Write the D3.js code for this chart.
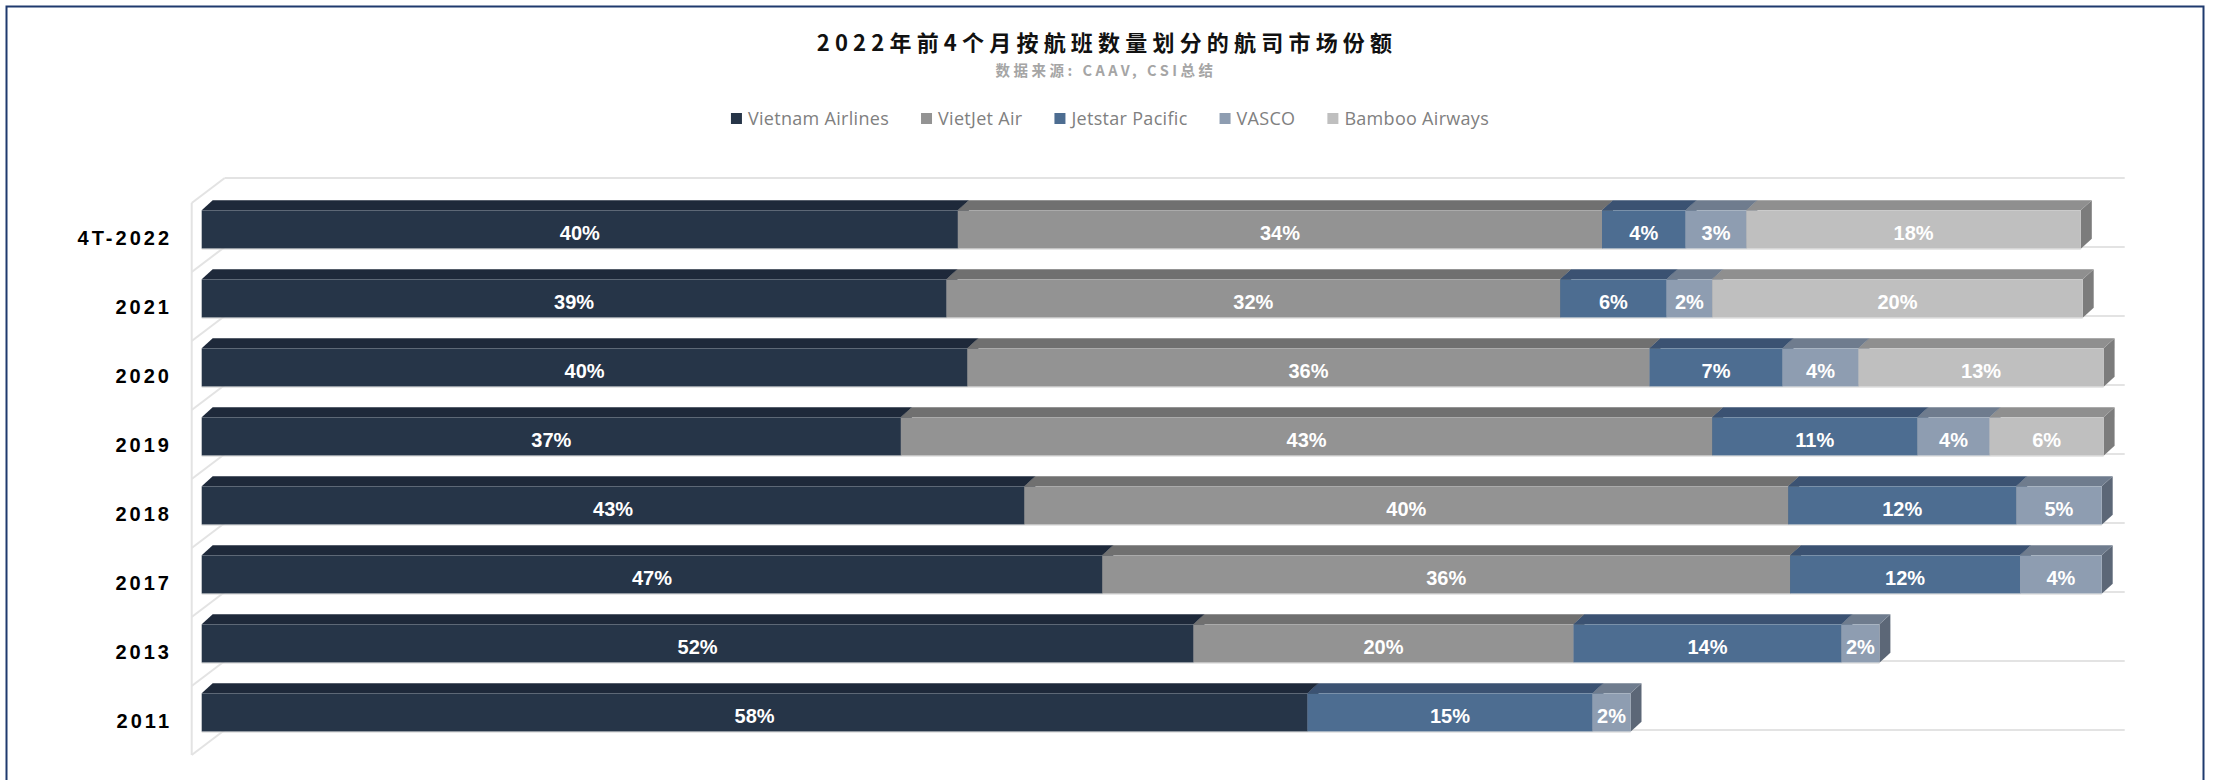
<!DOCTYPE html>
<html>
<head>
<meta charset="utf-8">
<script src="https://cdn.jsdelivr.net/npm/d3@7"></script>
<style>
  html, body { margin: 0; padding: 0; background: #ffffff; }
  svg { display: block; }
</style>
</head>
<body>
<svg id="chart" width="2214" height="780"></svg>
<script>
// ---------------- data ----------------
const titleText = "2022年前4个月按航班数量划分的航司市场份额";
const subtitleText = "数据来源: CAAV, CSI总结";
const categories = ["4T-2022", "2021", "2020", "2019", "2018", "2017", "2013", "2011"];
const seriesNames = ["Vietnam Airlines", "VietJet Air", "Jetstar Pacific", "VASCO", "Bamboo Airways"];
const vietnamAirlines = [39.8, 39.2, 40.3, 36.8, 43.3, 47.4, 52.2, 58.2];
const vietjetAir      = [33.9, 32.3, 35.9, 42.7, 40.2, 36.2, 20.0, 0];
const jetstarPacific  = [4.4, 5.6, 7.0, 10.8, 12.0, 12.1, 14.1, 15.0];
const vasco           = [3.2, 2.4, 4.0, 3.8, 4.5, 4.3, 2.0, 2.0];
const bambooAirways   = [17.6, 19.5, 12.9, 6.0, 0, 0, 0, 0];

// ---------------- styles ----------------
const frontColors = ["#263548", "#939393", "#4d6d91", "#8e9db1", "#bfbfbf"];
const topColors   = ["#1e293a", "#707070", "#3b5272", "#6f7c8e", "#8f8f8f"];
const sideColors  = ["#18212e", "#5e5e5e", "#31465f", "#5c6777", "#7c7c7c"];

const svg = d3.select("#chart");

// frame
svg.append("rect")
  .attr("x", 6.5).attr("y", 6.5).attr("width", 2197).attr("height", 820)
  .attr("fill", "none").attr("stroke", "#1f3a6e").attr("stroke-width", 2);

// title
svg.append("text")
  .attr("x", 1107).attr("y", 51)
  .attr("text-anchor", "middle")
  .style("font-family", "'Noto Sans CJK SC', 'Noto Sans', sans-serif")
  .style("font-weight", "700").style("font-size", "22px")
  .style("letter-spacing", "5.2px")
  .attr("fill", "#111111")
  .text(titleText);

svg.append("text")
  .attr("x", 1106).attr("y", 76)
  .attr("text-anchor", "middle")
  .style("font-family", "'Noto Sans CJK SC', 'Noto Sans', sans-serif")
  .style("font-weight", "700").style("font-size", "14.5px")
  .style("letter-spacing", "3.5px")
  .attr("fill", "#a5a5a5")
  .text(subtitleText);

// ---------------- scales ----------------
const x = d3.scaleLinear().domain([0, 100]).range([201.7, 2101.7]);
const y = d3.scaleBand().domain(categories).range([195, 747])
  .paddingInner(0.445).paddingOuter(0.2225);

const dx = 11, dy = -10;          // bar depth
const wallFront = {dx: -10, dy: 8}; // wall front plane offset
const wallBack = {dx: 23, dy: -17}; // wall back plane offset

// ---------------- walls / gridlines ----------------
const grid = svg.append("g").attr("stroke", "#e3e3e3").attr("stroke-width", 2).attr("fill", "none");
const step = y.step();
const y0 = y.range()[0];
const boundaries = d3.range(categories.length + 1).map(k => y0 + k * step);
grid.append("line")
  .attr("x1", x(0) + wallFront.dx).attr("x2", x(0) + wallFront.dx)
  .attr("y1", boundaries[0] + wallFront.dy).attr("y2", boundaries[boundaries.length - 1] + wallFront.dy);
boundaries.forEach(b => {
  grid.append("line")
    .attr("x1", x(0) + wallFront.dx).attr("y1", b + wallFront.dy)
    .attr("x2", x(0) + wallBack.dx).attr("y2", b + wallBack.dy);
  grid.append("line")
    .attr("x1", x(0) + wallBack.dx).attr("y1", b + wallBack.dy)
    .attr("x2", x(100) + wallBack.dx).attr("y2", b + wallBack.dy);
});

// ---------------- stacked data ----------------
const rows = categories.map((c, i) => ({
  cat: c,
  "Vietnam Airlines": vietnamAirlines[i],
  "VietJet Air": vietjetAir[i],
  "Jetstar Pacific": jetstarPacific[i],
  "VASCO": vasco[i],
  "Bamboo Airways": bambooAirways[i]
}));
const stacked = d3.stack().keys(seriesNames)(rows);

const segs = [];
categories.forEach((c, i) => {
  stacked.forEach((layer, si) => {
    const d = layer[i];
    const v = d[1] - d[0];
    if (v > 0) segs.push({cat: c, si, x0: d[0], x1: d[1], v});
  });
});

const bars = svg.append("g");
segs.forEach(s => {
  const xa = x(s.x0), xb = x(s.x1);
  const yt = y(s.cat), yb = yt + y.bandwidth();
  const g = bars.append("g");
  g.append("path")
    .attr("d", `M${xb},${yt}L${xb + dx},${yt + dy}L${xb + dx},${yb + dy}L${xb},${yb}Z`)
    .attr("fill", sideColors[s.si]);
  g.append("path")
    .attr("d", `M${xa},${yt}L${xa + dx},${yt + dy}L${xb + dx},${yt + dy}L${xb},${yt}Z`)
    .attr("fill", topColors[s.si]);
  g.append("rect")
    .attr("x", xa).attr("y", yt).attr("width", xb - xa).attr("height", yb - yt)
    .attr("fill", frontColors[s.si]);
});

categories.forEach((c, i) => {
  const total = d3.max(stacked, l => l[i][1]);
  bars.append("line")
    .attr("x1", x(0)).attr("x2", x(total))
    .attr("y1", y(c) + y.bandwidth() + 0.5).attr("y2", y(c) + y.bandwidth() + 0.5)
    .attr("stroke", "#d9d9d9").attr("stroke-width", 1);
});

// data labels
svg.append("g").selectAll("text").data(segs).join("text")
  .attr("x", d => (x(d.x0) + x(d.x1)) / 2)
  .attr("y", d => y(d.cat) + y.bandwidth() / 2 + 10)
  .attr("text-anchor", "middle")
  .style("font-family", "'Liberation Sans', Arial, sans-serif")
  .style("font-weight", "700").style("font-size", "20px")
  .attr("fill", "#ffffff")
  .text(d => Math.round(d.v) + "%");

// y axis labels
const yAxis = d3.axisLeft(y).tickSize(0).tickPadding(0);
const yg = svg.append("g").attr("transform", `translate(172,${8})`).call(yAxis);
yg.select(".domain").remove();
yg.selectAll("text")
  .style("font-family", "'Liberation Sans', Arial, sans-serif")
  .style("font-weight", "700").style("font-size", "20px")
  .style("letter-spacing", "3px")
  .attr("fill", "#000000")
  .attr("dy", "0.36em");

// legend
const legend = svg.append("g");
const items = [];
seriesNames.forEach((name, i) => {
  const it = legend.append("g");
  it.append("rect").attr("x", 0).attr("y", 113).attr("width", 11).attr("height", 11)
    .attr("fill", frontColors[i]);
  const t = it.append("text").attr("x", 17).attr("y", 125)
    .style("font-family", "'Open Sans', 'Noto Sans', sans-serif")
    .style("font-size", "18px")
    .style("letter-spacing", "0.3px")
    .attr("fill", "#808080")
    .text(name);
  const w = 17 + t.node().getComputedTextLength();
  items.push({it, w});
});
const gap = 32;
const totalW = d3.sum(items, d => d.w) + gap * (items.length - 1);
let cx = 1110 - totalW / 2;
items.forEach(d => {
  d.it.attr("transform", `translate(${cx},0)`);
  cx += d.w + gap;
});
</script>
</body>
</html>
